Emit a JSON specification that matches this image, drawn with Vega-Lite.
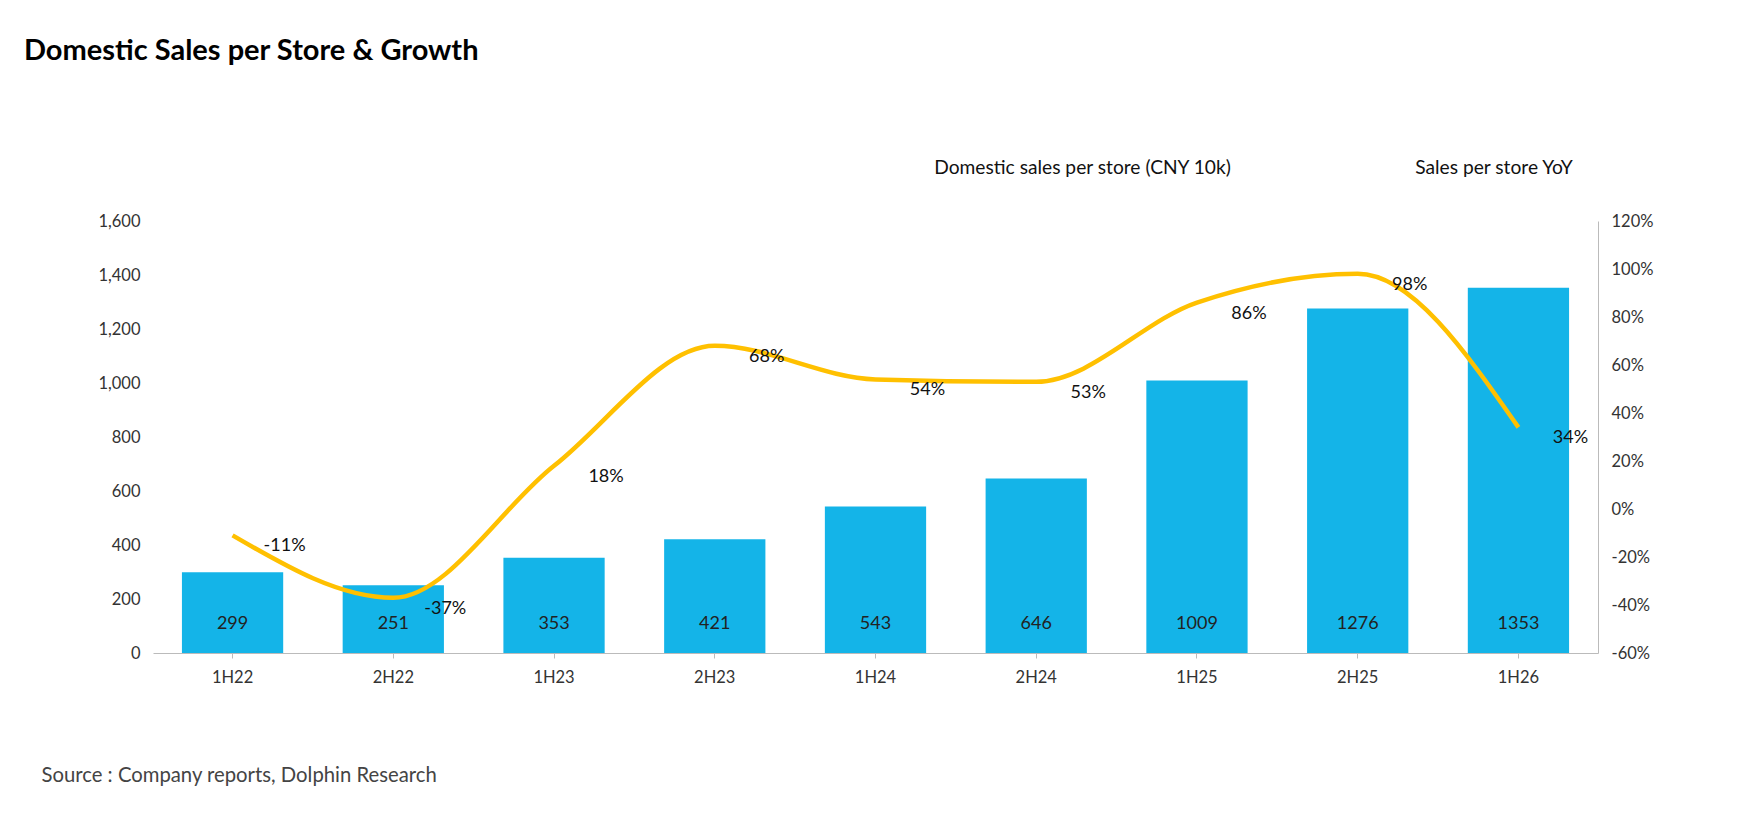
{
  "$schema": "https://vega.github.io/schema/vega-lite/v6.json",
  "autosize": "none",
  "width": 1445,
  "height": 432,
  "padding": {"left": 153, "top": 221, "right": 144, "bottom": 183},
  "background": "white",
  "config": {"font": "Lato", "view": {"stroke": null}},
  "title": {"text": "Domestic Sales per Store & Growth", "anchor": "start", "frame": "group", "fontSize": 29, "fontWeight": "bold", "color": "black", "offset": 92, "dx": -129},
  "data": {"values": [
    {"period": "1H22", "sales": 299, "yoy": -11},
    {"period": "2H22", "sales": 251, "yoy": -37},
    {"period": "1H23", "sales": 353, "yoy": 18},
    {"period": "2H23", "sales": 421, "yoy": 68},
    {"period": "1H24", "sales": 543, "yoy": 54},
    {"period": "2H24", "sales": 646, "yoy": 53},
    {"period": "1H25", "sales": 1009, "yoy": 86},
    {"period": "2H25", "sales": 1276, "yoy": 98},
    {"period": "1H26", "sales": 1353, "yoy": 34}
  ]},
  "encoding": {
    "x": {"field": "period", "type": "ordinal", "sort": null, "title": "Source : Company reports, Dolphin Research",
      "scale": {"paddingInner": 0.37, "paddingOuter": 0.18},
      "axis": {"labelAngle": 0, "labelFontSize": 16.5, "labelColor": "#333", "domainColor": "#bbb", "tickColor": "#bbb", "labelPadding": 11,
        "titleX": -112, "titleY": 112, "titleAnchor": "start", "titleAlign": "left", "titleFontSize": 20.3, "titleFontWeight": "normal", "titleColor": "#444"}}
  },
  "layer": [
    {
      "layer": [
        {
          "mark": {"type": "bar", "color": "#14B4E8"},
          "encoding": {
            "y": {"field": "sales", "type": "quantitative", "title": null, "scale": {"domain": [0, 1600]},
              "axis": {"values": [0,200,400,600,800,1000,1200,1400,1600], "format": ",.0f", "grid": false, "domain": false, "ticks": false, "labelFontSize": 16.5, "labelColor": "#333", "labelPadding": 13}},
            "color": {"datum": "Domestic sales per store (CNY 10k)", "type": "nominal",
              "scale": {"domain": ["Domestic sales per store (CNY 10k)", "Sales per store YoY"], "range": ["#14B4E8", "#FFC000"]},
              "legend": {"title": null, "orient": "none", "legendX": 758, "legendY": -63, "direction": "horizontal", "symbolSize": 0, "symbolOpacity": 0, "labelFontSize": 19.2, "labelColor": "#111", "columnPadding": 159, "labelLimit": 400}}
          }
        },
        {
          "mark": {"type": "text", "fontSize": 18, "color": "#222", "dy": -29},
          "encoding": {
            "y": {"datum": 0, "type": "quantitative"},
            "text": {"field": "sales"}
          }
        }
      ]
    },
    {
      "transform": [{"calculate": "datum.yoy + '%'", "as": "yoyLabel"}],
      "layer": [
        {
          "mark": {"type": "line", "color": "#FFC000", "strokeWidth": 4.5, "interpolate": "monotone"},
          "encoding": {
            "y": {"field": "yoy", "type": "quantitative", "title": null, "scale": {"domain": [-60, 120]},
              "axis": {"orient": "right", "values": [-60,-40,-20,0,20,40,60,80,100,120], "labelExpr": "datum.value + '%'", "grid": false, "ticks": false, "domainColor": "#bbb", "labelFontSize": 16.5, "labelColor": "#333", "labelPadding": 13}}
          }
        },
        {
          "mark": {"type": "text", "fontSize": 18, "color": "#111", "dx": 52, "dy": 11},
          "encoding": {
            "y": {"field": "yoy", "type": "quantitative"},
            "text": {"field": "yoyLabel", "type": "nominal"}
          }
        }
      ]
    }
  ],
  "resolve": {"scale": {"y": "independent"}}
}
